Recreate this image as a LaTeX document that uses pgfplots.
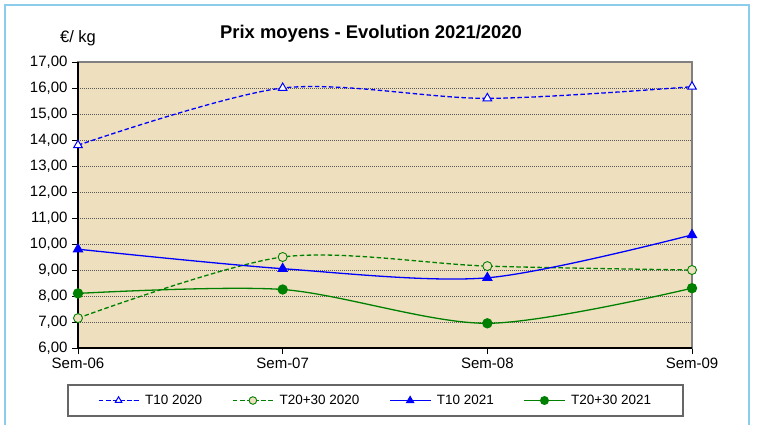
\documentclass[border=0pt]{standalone}
\usepackage{fontspec}
\setmainfont{Liberation Sans}
\usepackage{pgfplots}
\pgfplotsset{compat=1.18}
\definecolor{parch}{RGB}{238,224,190}
\definecolor{frameblue}{RGB}{140,205,235}
\definecolor{exgreen}{RGB}{0,128,0}
\begin{document}
\begin{tikzpicture}[x=1bp,y=1bp]
\useasboundingbox (0,0) rectangle (757,424);
\draw[color=frameblue, line width=2bp] (5,-5) -- (5,419) -- (749,419) -- (749,-5);
\node[font=\fontsize{18.4bp}{20bp}\selectfont\bfseries] at (371,390) {Prix moyens - Evolution 2021/2020};
\node[font=\fontsize{16.5bp}{18bp}\selectfont] at (78,386) {€/ kg};
\begin{axis}[
  at={(78bp,76bp)}, anchor=south west, scale only axis,
  width=614bp, height=286bp,
  xmin=0, xmax=3, ymin=6, ymax=17,
  xtick={0,1,2,3}, xticklabels={Sem-06,Sem-07,Sem-08,Sem-09},
  ytick={6,7,...,17},
  ymajorgrids, grid style={gray!70!black, line width=0.6bp, dash pattern=on 1bp off 1bp},
  axis background/.style={fill=parch},
  tick align=outside, tick pos=left, major tick length=6bp,
  tick style={black, line width=0.9bp},
  axis line style={gray, line width=1.2bp},
  /pgf/number format/assume math mode=true,
  tick label style={font=\fontsize{15bp}{17bp}\selectfont},
  xticklabel style={yshift=-1bp},
  yticklabel style={xshift=-1bp, /pgf/number format/.cd, fixed, fixed zerofill, precision=2, use comma},
  clip=false,
  legend columns=4,
  legend style={at={(0.4845,-0.1836)}, anchor=center, draw=gray!80!black, line width=1.5bp, fill=white,
    font=\fontsize{13.5bp}{15bp}\selectfont, inner xsep=30bp, inner ysep=8bp,
    /tikz/every odd column/.append style={column sep=4bp},
    /tikz/every even column/.append style={column sep=28bp}},
  legend image code/.code={\draw[mark repeat=2,mark phase=2,#1, mark size=3.8bp] plot coordinates {(0bp,0bp) (20bp,0bp) (40bp,0bp)};},
]
\addplot[blue, line width=1.3bp, dash pattern=on 4.5bp off 2.5bp, smooth, mark=triangle*, mark size=5bp, mark options={solid, fill=white, line width=1bp}]
  coordinates {(0,13.8) (1,16.0) (2,15.6) (3,16.05)};
\addlegendentry{T10 2020}
\addplot[exgreen, line width=1.3bp, dash pattern=on 4.5bp off 2.5bp, smooth, mark=*, mark size=4.5bp, mark options={solid, fill=parch, line width=0.9bp}]
  coordinates {(0,7.15) (1,9.5) (2,9.15) (3,9.0)};
\addlegendentry{T20+30 2020}
\addplot[blue, line width=1.3bp, smooth, mark=triangle*, mark size=5bp, mark options={solid, fill=blue}]
  coordinates {(0,9.8) (1,9.05) (2,8.7) (3,10.35)};
\addlegendentry{T10 2021}
\addplot[exgreen, line width=1.3bp, smooth, mark=*, mark size=4.5bp, mark options={solid, fill=exgreen}]
  coordinates {(0,8.1) (1,8.25) (2,6.95) (3,8.3)};
\addlegendentry{T20+30 2021}
\draw[black, line width=1.2bp] (rel axis cs:0,1) -- (rel axis cs:0,0) -- (rel axis cs:1,0);
\end{axis}
\end{tikzpicture}
\end{document}
